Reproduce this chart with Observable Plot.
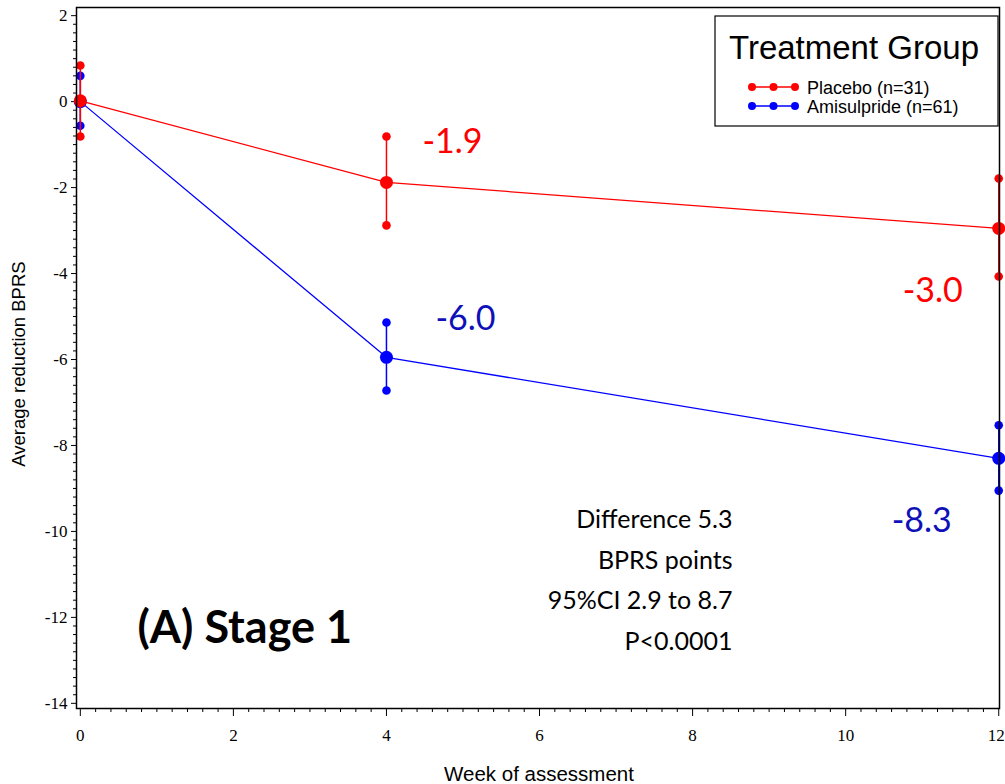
<!DOCTYPE html>
<html><head><meta charset="utf-8">
<script src="https://cdn.jsdelivr.net/npm/d3@7"></script>
<script src="https://cdn.jsdelivr.net/npm/@observablehq/plot@0.6"></script>
<style>body{margin:0;background:#fff} svg{display:block}</style>
</head><body><div id="chart"></div>
<script>
const weeks = [0, 4, 12];
const groups = ["Placebo (n=31)", "Amisulpride (n=61)"];
const placeboMean = [0.02, -1.88, -2.95];
const placeboUpper = [0.84, -0.81, -1.79];
const placeboLower = [-0.81, -2.88, -4.07];
const amisulprideMean = [0.0, -5.95, -8.3];
const amisulprideUpper = [0.6, -5.14, -7.53];
const amisulprideLower = [-0.56, -6.72, -9.05];
const placeboLabels = ["", "-1.9", "-3.0"];
const amisulprideLabels = ["", "-6.0", "-8.3"];
const xTicks = [0, 2, 4, 6, 8, 10, 12];
const yTicks = [-14, -12, -10, -8, -6, -4, -2, 0, 2];
const statsLines = ["Difference 5.3", "BPRS points", "95%CI 2.9 to 8.7", "P<0.0001"];
const panelLabel = "(A) Stage 1";
const legendTitle = "Treatment Group";
const xLabel = "Week of assessment";
const yLabel = "Average reduction BPRS";

const RED = "#ff0000", BLUE = "#0000ff";
const RED_TXT = "#ff0000", BLUE_TXT = "#1010b8";
const SERIF = "Liberation Serif, Times New Roman, serif";
const SANS = "Liberation Sans, Arial, sans-serif";

const mk = (mean, up, lo, lab) => weeks.map((w, i) => ({week: w, mean: mean[i], upper: up[i], lower: lo[i], label: lab[i]}));
const placebo = mk(placeboMean, placeboUpper, placeboLower, placeboLabels);
const amisulpride = mk(amisulprideMean, amisulprideUpper, amisulprideLower, amisulprideLabels);

const xMinor = d3.range(0, 12.001, 0.2).map(v => +v.toFixed(2)).filter(v => !xTicks.includes(v));
const yMinor = d3.range(-14, 2.001, 0.2).map(v => +v.toFixed(2)).filter(v => !yTicks.includes(v));

function groupMarks(rows, color) {
  return [
    Plot.line(rows, {x: "week", y: "mean", stroke: color, strokeWidth: 1.3}),
    Plot.ruleX(rows, {x: "week", y1: "lower", y2: "upper", stroke: color, strokeWidth: 1.5}),
    Plot.dot(rows, {x: "week", y: "upper", r: 4.3, fill: color}),
    Plot.dot(rows, {x: "week", y: "lower", r: 4.3, fill: color}),
    Plot.dot(rows, {x: "week", y: "mean", r: 6.5, fill: color})
  ];
}
const labelFont = {fontFamily: "Lato", fontSize: 34};
function valueLabel(rows, week, color, dx, dy) {
  return Plot.text(rows.filter(d => d.week === week), {x: "week", y: "mean", text: "label", fill: color, dx, dy, textAnchor: "middle", lineAnchor: "middle", ...labelFont});
}

const plot = Plot.plot({
  width: 1005, height: 784,
  marginLeft: 76, marginRight: 6, marginTop: 7, marginBottom: 76,
  x: {domain: [-0.05, 12.01]},
  y: {domain: [-14.12, 2.19]},
  style: {background: "white", color: "black", overflow: "visible"},
  marks: [
    Plot.axisY({ticks: yMinor, tickSize: 3, tickFormat: () => "", label: null}),
    Plot.axisY({ticks: yTicks, tickSize: 5, tickPadding: 4, tickFormat: d => String(d), label: null, fontSize: 17, fontFamily: SERIF}),
    Plot.axisX({ticks: xMinor, tickSize: 4, tickFormat: () => "", label: null}),
    Plot.axisX({ticks: xTicks, tickSize: 8, tickPadding: 12, tickFormat: d => String(d), label: null, fontSize: 17, fontFamily: SERIF}),
    ...groupMarks(amisulpride, BLUE),
    ...groupMarks(placebo, RED),
    valueLabel(placebo, 4, RED_TXT, 66, -40),
    valueLabel(amisulpride, 4, BLUE_TXT, 79, -38),
    valueLabel(placebo, 12, RED_TXT, -66, 63),
    valueLabel(amisulpride, 12, BLUE_TXT, -77, 63),
    Plot.text([statsLines.join("\n")], {frameAnchor: "top-left", dx: 656, dy: 568.5, textAnchor: "end", lineAnchor: "middle", lineHeight: 40.5 / 25, fontFamily: "Lato", fontSize: 25, fill: "black"}),
    Plot.text([panelLabel], {frameAnchor: "top-left", dx: 61, dy: 621, textAnchor: "start", lineAnchor: "middle", fontFamily: "Lato", fontWeight: "bold", fontSize: 45, fill: "black"}),
    Plot.frame({stroke: "black", strokeWidth: 1.5})
  ]
});

const svg = d3.select(plot);
svg.selectAll('g[aria-label*="axis"] text, g[aria-label*="axis"]')
  .style("font-size", "17px").style("font-family", SERIF).style("fill", "black");
// keep the last x tick label ("12") inside the picture, as in the reference
svg.selectAll('g[aria-label*="x-axis"] text').filter(function() { return this.textContent === String(xTicks[xTicks.length - 1]); })
  .attr("text-anchor", "end").attr("dx", 6);

svg.append("text").attr("transform", "translate(18,364) rotate(-90)").attr("text-anchor", "middle").attr("dominant-baseline", "central")
  .attr("font-family", SANS).attr("font-size", 18.5).attr("fill", "black").text(yLabel);
svg.append("text").attr("x", 539).attr("y", 773).attr("text-anchor", "middle").attr("dominant-baseline", "central")
  .attr("font-family", SANS).attr("font-size", 20.5).attr("fill", "black").text(xLabel);

const lg = svg.append("g").attr("text-anchor", "start");
lg.append("rect").attr("x", 715).attr("y", 16).attr("width", 283).attr("height", 110).attr("fill", "white").attr("stroke", "black").attr("stroke-width", 1.2);
lg.append("text").attr("x", 854).attr("y", 59).attr("text-anchor", "middle").attr("font-family", SANS).attr("font-size", 33).attr("fill", "black").text(legendTitle);
[[groups[0], RED, 87], [groups[1], BLUE, 106]].forEach(([name, c, y]) => {
  lg.append("line").attr("x1", 752).attr("x2", 795).attr("y1", y).attr("y2", y).attr("stroke", c).attr("stroke-width", 1.5);
  [752, 773.5, 795].forEach(x => lg.append("circle").attr("cx", x).attr("cy", y).attr("r", 4).attr("fill", c));
  lg.append("text").attr("x", 807).attr("y", y + 1).attr("text-anchor", "start").attr("dominant-baseline", "central").attr("font-family", SANS).attr("font-size", 18).attr("fill", "black").text(name);
});

document.getElementById("chart").appendChild(plot);
</script>
</body></html>
